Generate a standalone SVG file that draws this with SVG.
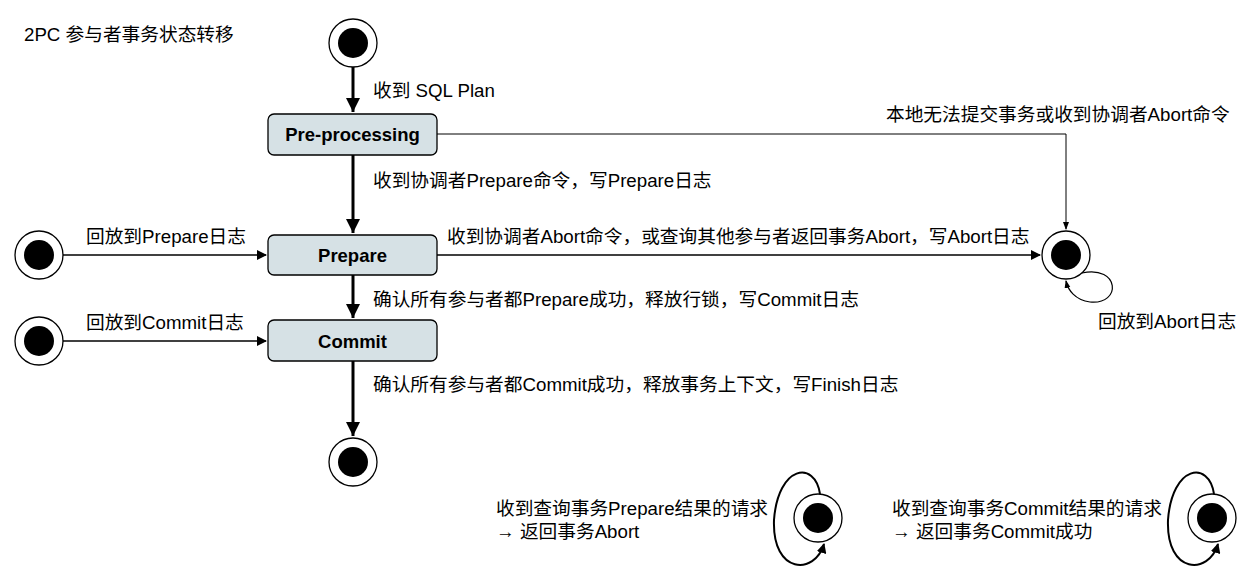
<svg xmlns="http://www.w3.org/2000/svg" width="1260" height="588" viewBox="0 0 1260 588">
<style>
text{font-family:"Liberation Sans","Noto Sans CJK SC",sans-serif;font-size:18.7px;fill:#000}
.b{font-weight:bold;font-size:18.5px}
.box{fill:#d6e1e5;stroke:#000;stroke-width:1.3}
.oc{fill:#fff;stroke:#000;stroke-width:1.3}
.ln{fill:none;stroke:#000}
</style>
<defs>
<marker id="a" markerWidth="10" markerHeight="10" refX="9" refY="5" orient="auto" markerUnits="userSpaceOnUse"><path d="M0,0 L10,5 L0,10 Z"/></marker>
<marker id="s" markerWidth="8" markerHeight="8" refX="7" refY="4" orient="auto" markerUnits="userSpaceOnUse"><path d="M0,1 L8,4 L0,7 Z"/></marker>
<marker id="A" markerWidth="16" markerHeight="16" refX="14" refY="8" orient="auto" markerUnits="userSpaceOnUse"><path d="M0,1 L14,8 L0,15 Z"/></marker>
</defs>
<text x="24" y="41">2PC 参与者事务状态转移</text>
<g id="connectors">
<path class="ln" stroke-width="3" d="M353,67 V112" marker-end="url(#A)"/>
<path class="ln" stroke-width="3" d="M353,155 V233" marker-end="url(#A)"/>
<path class="ln" stroke-width="3" d="M353,275 V318" marker-end="url(#A)"/>
<path class="ln" stroke-width="3" d="M353,361 V436" marker-end="url(#A)"/>
<path class="ln" stroke-width="1.5" d="M63,255 H266" marker-end="url(#a)"/>
<path class="ln" stroke-width="1.5" d="M63,341 H266" marker-end="url(#a)"/>
<path class="ln" stroke-width="1.5" d="M437,255 H1040" marker-end="url(#a)"/>
<path class="ln" stroke-width="1" d="M437,134 H1066 V229" marker-end="url(#s)"/>
<path class="ln" stroke-width="1.2" d="M1082,273 C1120,265 1122,305 1090,302 C1075,300 1068,290 1066,281" marker-end="url(#s)"/>
<path class="ln" stroke-width="2" d="M820,494 C815,460 778,465 774,520 C772,575 815,575 824,544" marker-end="url(#a)"/>
<path class="ln" stroke-width="2" d="M1214,494 C1209,460 1172,465 1168,520 C1166,575 1209,575 1218,544" marker-end="url(#a)"/>
</g>
<g id="start"><circle class="oc" cx="353" cy="43" r="24"/><circle cx="353" cy="43" r="15"/></g>
<g id="preprocessing"><rect class="box" x="268" y="114" width="169" height="41" rx="6"/><text class="b" x="352.5" y="141" text-anchor="middle">Pre-processing</text></g>
<g id="prepare"><rect class="box" x="268" y="235" width="169" height="40" rx="6"/><text class="b" x="352.5" y="262" text-anchor="middle">Prepare</text></g>
<g id="commit"><rect class="box" x="268" y="320" width="169" height="41" rx="6"/><text class="b" x="352.5" y="348" text-anchor="middle">Commit</text></g>
<g id="end"><circle class="oc" cx="353" cy="462" r="24"/><circle cx="353" cy="462" r="15"/></g>
<g id="replayPrepare"><circle class="oc" cx="39" cy="255" r="24"/><circle cx="39" cy="255" r="15"/></g>
<g id="replayCommit"><circle class="oc" cx="39" cy="341" r="24"/><circle cx="39" cy="341" r="15"/></g>
<g id="abort"><circle class="oc" cx="1066" cy="255" r="24"/><circle cx="1066" cy="255" r="15"/></g>
<g id="queryAbort"><circle class="oc" cx="818" cy="518" r="24"/><circle cx="818" cy="518" r="15"/></g>
<g id="queryCommit"><circle class="oc" cx="1212" cy="518" r="24"/><circle cx="1212" cy="518" r="15"/></g>
<g id="labels">
<text x="373" y="97">收到 SQL Plan</text>
<text x="373" y="187">收到协调者Prepare命令，写Prepare日志</text>
<text x="447" y="243">收到协调者Abort命令，或查询其他参与者返回事务Abort，写Abort日志</text>
<text x="886" y="121">本地无法提交事务或收到协调者Abort命令</text>
<text x="1098" y="328">回放到Abort日志</text>
<text x="86" y="243">回放到Prepare日志</text>
<text x="86" y="329">回放到Commit日志</text>
<text x="373" y="306">确认所有参与者都Prepare成功，释放行锁，写Commit日志</text>
<text x="373" y="391">确认所有参与者都Commit成功，释放事务上下文，写Finish日志</text>
<text x="496" y="515">收到查询事务Prepare结果的请求</text>
<text x="496" y="538">→ 返回事务Abort</text>
<text x="892" y="515">收到查询事务Commit结果的请求</text>
<text x="892" y="538">→ 返回事务Commit成功</text>
</g>
</svg>
